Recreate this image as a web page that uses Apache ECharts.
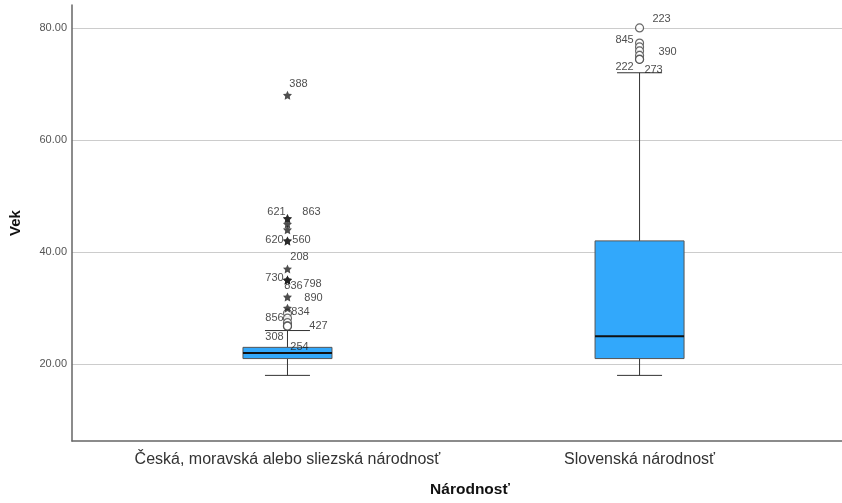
<!DOCTYPE html>
<html lang="sk">
<head>
    <meta charset="UTF-8">
    <title>Vek podľa národnosti</title>
    <script src="https://cdn.jsdelivr.net/npm/echarts@6/dist/echarts.min.js"></script>
    <style>
        html, body { margin: 0; padding: 0; background: #fff; }
        #chart { width: 842px; height: 503px; }
    </style>
</head>
<body>
<div id="chart"></div>
<script>
    // kategorie na osi x
    var categories = ['Česká, moravská alebo sliezská národnosť', 'Slovenská národnosť'];
    // [min, Q1, medián, Q3, max] pre každú kategóriu
    var boxMin = [18, 18];
    var boxQ1 = [21, 21];
    var boxMedian = [22, 25];
    var boxQ3 = [23, 42];
    var boxMax = [26, 72];
    var yTicks = [20, 40, 60, 80];

    // extrémne hodnoty (hviezdičky) - česká národnosť
    var czStarValues = [68, 46, 46, 45, 44, 42, 42, 37, 35, 35, 35, 32, 30];
    var czStarIds = ['388', '621', '863', '', '', '620', '560', '208', '730', '836', '798', '890', '834'];
    // odľahlé hodnoty (krúžky) - česká národnosť
    var czCircleValues = [29.1, 28.2, 27.4, 26.8, 26.8, 26.8];
    var czCircleIds = ['', '856', '', '427', '308', '254'];
    // odľahlé hodnoty (krúžky) - slovenská národnosť
    var skCircleValues = [80, 77.3, 76.6, 75.9, 75.1, 74.4, 74.4];
    var skCircleIds = ['223', '845', '', '390', '', '222', '273'];

    // posun popiskov voči bodu (px)
    var labelShift = {
        '388': [11, -11], '621': [-11, -6], '863': [24, -6], '620': [-13, -1], '560': [14, -1],
        '208': [12, -12], '730': [-13, -2], '836': [6, 6], '798': [25, 4], '890': [26, 1],
        '834': [13, 4], '856': [-13, 0], '427': [31, 0], '308': [-13, 11], '254': [12, 21],
        '223': [22, -9], '845': [-15, -3], '390': [28, 1], '222': [-15, 8], '273': [14, 11]
    };

    var starPath = 'path://M0,-10L2.9,-4L9.5,-3.1L4.8,1.5L5.9,8.1L0,5L-5.9,8.1L-4.8,1.5L-9.5,-3.1L-2.9,-4Z';
    var font = 'Liberation Sans, Arial, sans-serif';

    function outlierData(x, values, ids) {
        var out = [];
        for (var i = 0; i < values.length; i++) {
            var id = ids[i];
            out.push({
                value: [x, values[i]],
                label: id ? {show: true, formatter: id, offset: labelShift[id] || [12, 0]} : {show: false}
            });
        }
        return out;
    }

    var boxData = [];
    for (var i = 0; i < categories.length; i++) {
        boxData.push([i, boxMin[i], boxQ1[i], boxMedian[i], boxQ3[i], boxMax[i]]);
    }

    var chart = echarts.init(document.getElementById('chart'));

    function renderBox(params, api) {
        var x = api.value(0);
        var pMin = api.coord([x, api.value(1)]);
        var pQ1 = api.coord([x, api.value(2)]);
        var pMed = api.coord([x, api.value(3)]);
        var pQ3 = api.coord([x, api.value(4)]);
        var pMax = api.coord([x, api.value(5)]);
        var cx = pMed[0];
        var half = 44.5;
        var cap = 22.5;
        var lineStyle = {stroke: '#333', lineWidth: 1};
        return {
            type: 'group',
            children: [
                {type: 'line', shape: {x1: cx, y1: pMin[1], x2: cx, y2: pQ1[1]}, style: lineStyle},
                {type: 'line', shape: {x1: cx, y1: pQ3[1], x2: cx, y2: pMax[1]}, style: lineStyle},
                {type: 'line', shape: {x1: cx - cap, y1: pMin[1], x2: cx + cap, y2: pMin[1]}, style: lineStyle},
                {type: 'line', shape: {x1: cx - cap, y1: pMax[1], x2: cx + cap, y2: pMax[1]}, style: lineStyle},
                {
                    type: 'rect',
                    shape: {x: cx - half, y: pQ3[1], width: half * 2, height: pQ1[1] - pQ3[1]},
                    style: {fill: '#32a8fb', stroke: '#555', lineWidth: 1}
                },
                {type: 'line', shape: {x1: cx - half, y1: pMed[1], x2: cx + half, y2: pMed[1]}, style: {stroke: '#111', lineWidth: 2}}
            ]
        };
    }

    var pointLabel = {
        position: 'inside',
        color: '#222',
        fontSize: 11,
        fontFamily: font
    };

    chart.setOption({
        animation: false,
        grid: {left: 72, right: 0, top: 5, bottom: 61},
        xAxis: {
            type: 'value',
            min: -0.612,
            max: 1.575,
            name: 'Národnosť',
            nameLocation: 'middle',
            nameGap: 41,
            nameTextStyle: {
                color: '#111', fontSize: 15.5, fontWeight: 'bold',
                fontFamily: font, padding: [0, 0, 0, 26]
            },
            axisLine: {onZero: false, lineStyle: {color: '#666', width: 1.5}},
            axisTick: {show: false},
            splitLine: {show: false},
            axisLabel: {
                customValues: [0, 1],
                margin: 11,
                color: '#333',
                fontSize: 16,
                fontFamily: font,
                formatter: function (v) {
                    return categories[Math.round(v)] || '';
                }
            }
        },
        yAxis: {
            type: 'value',
            min: 6.29,
            max: 84.09,
            name: 'Vek',
            nameLocation: 'middle',
            nameGap: 49,
            nameTextStyle: {color: '#111', fontSize: 15, fontWeight: 'bold', fontFamily: font},
            axisLine: {show: true, onZero: false, lineStyle: {color: '#666', width: 1.5}},
            axisTick: {show: false, customValues: yTicks},
            splitLine: {show: true, lineStyle: {color: '#ccc', width: 1}},
            axisLabel: {
                customValues: yTicks,
                margin: 5,
                color: '#555',
                fontSize: 11,
                fontFamily: font,
                formatter: function (v) {
                    return v.toFixed(2);
                }
            }
        },
        series: [
            {
                type: 'custom',
                renderItem: renderBox,
                encode: {x: 0, y: [1, 2, 3, 4, 5]},
                data: boxData,
                z: 2
            },
            {
                type: 'scatter',
                symbol: 'circle',
                symbolSize: 8,
                itemStyle: {color: '#fff', borderColor: '#444', borderWidth: 1.2},
                label: pointLabel,
                data: outlierData(0, czCircleValues, czCircleIds).concat(outlierData(1, skCircleValues, skCircleIds)),
                z: 3
            },
            {
                type: 'scatter',
                symbol: starPath,
                symbolSize: 9,
                itemStyle: {color: '#222'},
                label: pointLabel,
                data: outlierData(0, czStarValues, czStarIds),
                z: 4
            }
        ]
    });
</script>
</body>
</html>
